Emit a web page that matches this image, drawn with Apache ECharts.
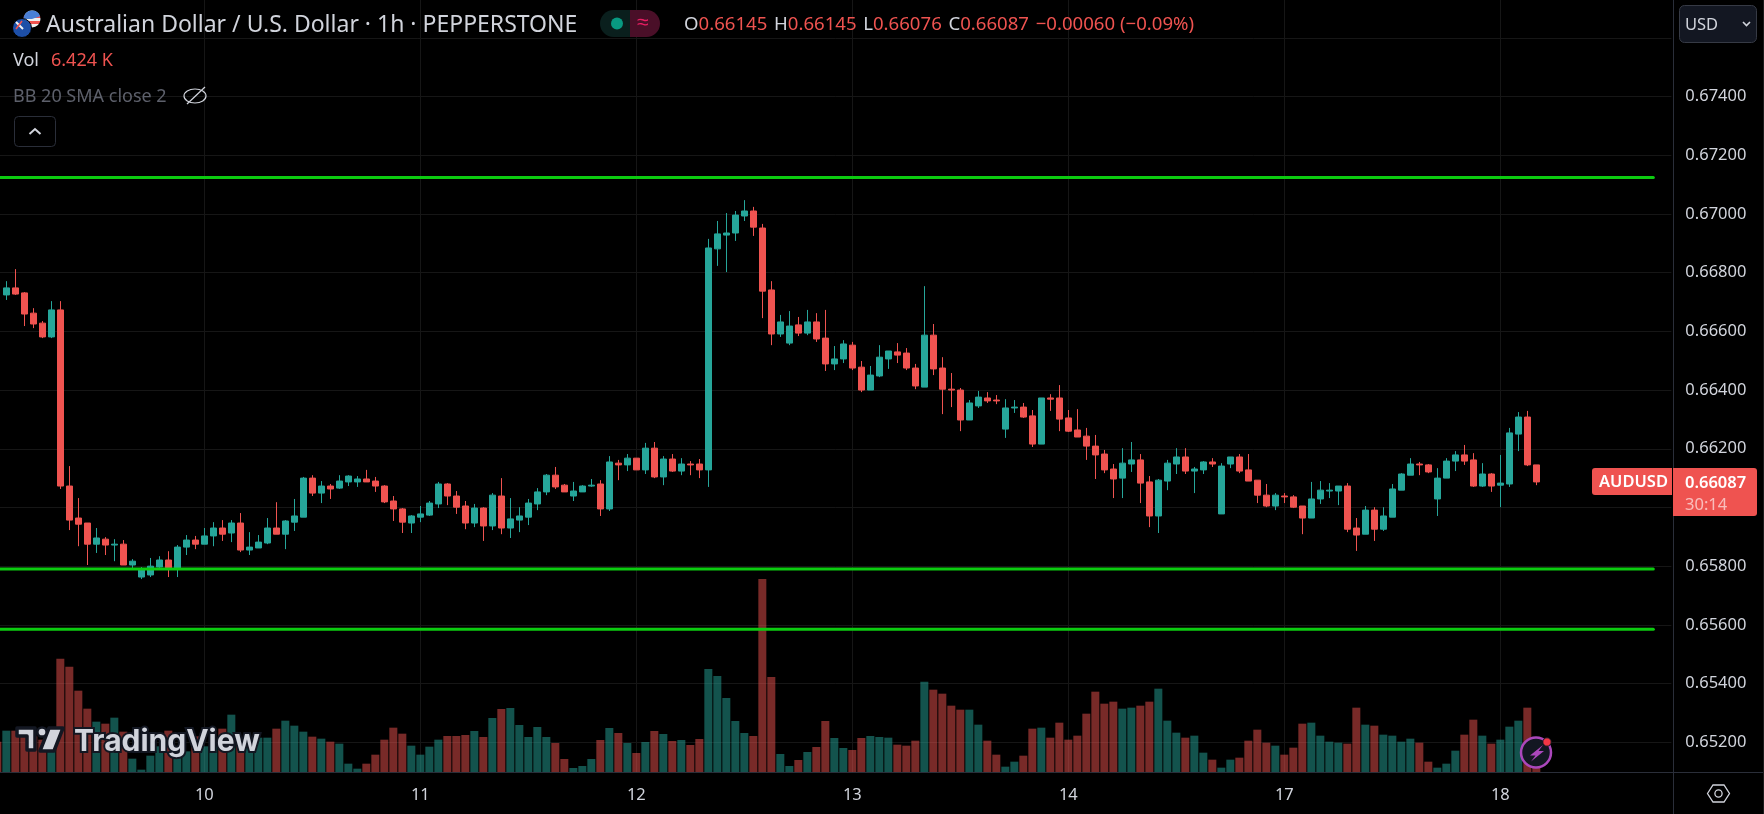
<!DOCTYPE html>
<html><head><meta charset="utf-8">
<style>html,body{margin:0;padding:0;background:#000}#c{width:1764px;height:814px}</style>
<script src="https://cdn.jsdelivr.net/npm/echarts@6/dist/echarts.min.js"></script>
</head><body><div id="c"></div>
<script>
const opens=[0.66724,0.66748,0.66731,0.66662,0.66628,0.66581,0.66673,0.66073,0.65964,0.65947,
0.65875,0.65892,0.65872,0.65875,0.65804,0.65763,0.65770,0.65797,0.65821,0.65790,
0.65865,0.65889,0.65875,0.65903,0.65930,0.65913,0.65947,0.65855,0.65862,0.65879,
0.65930,0.65909,0.65950,0.65967,0.66100,0.66049,0.66073,0.66066,0.66087,0.66087,
0.66097,0.66090,0.66073,0.66022,0.65995,0.65947,0.65967,0.65974,0.66012,0.66080,
0.66039,0.66005,0.65947,0.65998,0.65937,0.66039,0.65930,0.65957,0.65967,0.66012,
0.66053,0.66110,0.66076,0.66039,0.66053,0.66073,0.66080,0.65995,0.66151,0.66145,
0.66168,0.66128,0.66202,0.66104,0.66165,0.66124,0.66148,0.66148,0.66128,0.66881,
0.66928,0.66935,0.66993,0.67010,0.66952,0.66741,0.66591,0.66560,0.66622,0.66594,
0.66632,0.66577,0.66489,0.66506,0.66553,0.66478,0.66400,0.66448,0.66506,0.66530,
0.66526,0.66475,0.66410,0.66587,0.66475,0.66403,0.66400,0.66298,0.66346,0.66373,
0.66366,0.66267,0.66339,0.66342,0.66312,0.66216,0.66373,0.66373,0.66305,0.66264,
0.66243,0.66209,0.66182,0.66131,0.66100,0.66148,0.66162,0.66087,0.65971,0.66090,
0.66148,0.66172,0.66124,0.66128,0.66155,0.65978,0.66148,0.66172,0.66128,0.66093,
0.66042,0.66005,0.66039,0.66036,0.66005,0.65964,0.66029,0.66056,0.66056,0.66073,
0.65930,0.65909,0.65991,0.65926,0.65967,0.66059,0.66110,0.66148,0.66145,0.66029,
0.66100,0.66158,0.66179,0.66162,0.66073,0.66114,0.66076,0.66080,0.66250,0.66308,0.66145];
const closes=[0.66748,0.66727,0.66659,0.66625,0.66581,0.66673,0.66073,0.65957,0.65943,0.65875,
0.65896,0.65872,0.65875,0.65804,0.65817,0.65790,0.65800,0.65821,0.65794,0.65865,
0.65889,0.65875,0.65903,0.65930,0.65909,0.65947,0.65855,0.65865,0.65882,0.65930,
0.65909,0.65954,0.65971,0.66100,0.66049,0.66073,0.66063,0.66090,0.66107,0.66097,
0.66087,0.66073,0.66019,0.65995,0.65950,0.65971,0.65978,0.66015,0.66080,0.66039,
0.66001,0.65947,0.65998,0.65937,0.66042,0.65930,0.65961,0.65971,0.66015,0.66053,
0.66110,0.66070,0.66053,0.66056,0.66073,0.66076,0.65995,0.66155,0.66145,0.66168,
0.66128,0.66202,0.66104,0.66165,0.66124,0.66148,0.66145,0.66128,0.66884,0.66932,
0.66935,0.66996,0.67010,0.66955,0.66737,0.66591,0.66632,0.66618,0.66594,0.66632,
0.66574,0.66489,0.66506,0.66557,0.66475,0.66400,0.66451,0.66512,0.66533,0.66519,
0.66475,0.66414,0.66587,0.66472,0.66403,0.66400,0.66298,0.66356,0.66376,0.66363,
0.66363,0.66339,0.66342,0.66308,0.66216,0.66373,0.66369,0.66301,0.66260,0.66240,
0.66209,0.66179,0.66128,0.66097,0.66151,0.66162,0.66083,0.65971,0.66093,0.66151,
0.66172,0.66124,0.66131,0.66155,0.66148,0.66141,0.66172,0.66124,0.66090,0.66042,
0.66005,0.66042,0.66036,0.66001,0.65964,0.66029,0.66059,0.66059,0.66073,0.65926,
0.65906,0.65991,0.65926,0.65971,0.66063,0.66114,0.66148,0.66145,0.66121,0.66100,
0.66158,0.66179,0.66158,0.66073,0.66114,0.66073,0.66083,0.66254,0.66308,0.66145,0.66087];
const lows=[0.66707,0.66724,0.66618,0.66611,0.66577,0.66577,0.66063,0.65923,0.65868,0.65804,
0.65845,0.65838,0.65817,0.65804,0.65790,0.65756,0.65763,0.65790,0.65763,0.65763,
0.65838,0.65858,0.65875,0.65868,0.65886,0.65882,0.65848,0.65838,0.65862,0.65875,
0.65909,0.65858,0.65920,0.65967,0.66039,0.66015,0.66029,0.66063,0.66073,0.66070,
0.66087,0.66053,0.66015,0.65954,0.65913,0.65913,0.65950,0.65971,0.65998,0.66008,
0.65978,0.65926,0.65933,0.65886,0.65923,0.65909,0.65896,0.65916,0.65940,0.65991,
0.66042,0.66063,0.66053,0.66022,0.66053,0.66070,0.65971,0.65988,0.66093,0.66124,
0.66128,0.66114,0.66100,0.66076,0.66121,0.66110,0.66110,0.66100,0.66070,0.66823,
0.66802,0.66908,0.66976,0.66925,0.66645,0.66553,0.66581,0.66553,0.66584,0.66587,
0.66564,0.66465,0.66468,0.66492,0.66468,0.66393,0.66400,0.66444,0.66472,0.66492,
0.66468,0.66403,0.66410,0.66451,0.66318,0.66342,0.66260,0.66298,0.66339,0.66356,
0.66352,0.66237,0.66322,0.66305,0.66206,0.66216,0.66329,0.66260,0.66257,0.66240,
0.66162,0.66097,0.66117,0.66032,0.66032,0.66121,0.66015,0.65933,0.65913,0.66059,
0.66114,0.66114,0.66049,0.66114,0.66138,0.65978,0.66134,0.66117,0.66090,0.66015,
0.66001,0.65991,0.66015,0.65998,0.65909,0.65964,0.66012,0.66032,0.66008,0.65916,
0.65852,0.65909,0.65886,0.65920,0.65967,0.66059,0.66110,0.66110,0.66117,0.65971,
0.66100,0.66124,0.66145,0.66070,0.66070,0.66053,0.66001,0.66070,0.66192,0.66141,0.66076];
const highs=[0.66771,0.66812,0.66734,0.66679,0.66635,0.66703,0.66703,0.66141,0.66032,0.65947,
0.65930,0.65899,0.65892,0.65889,0.65824,0.65797,0.65828,0.65834,0.65851,0.65872,
0.65906,0.65903,0.65930,0.65950,0.65957,0.65957,0.65981,0.65916,0.65906,0.65964,
0.66018,0.65957,0.66029,0.66104,0.66110,0.66090,0.66080,0.66110,0.66110,0.66107,
0.66128,0.66104,0.66076,0.66039,0.65998,0.65974,0.66005,0.66022,0.66087,0.66083,
0.66056,0.66022,0.66012,0.66001,0.66049,0.66100,0.66032,0.66001,0.66029,0.66066,
0.66114,0.66138,0.66080,0.66087,0.66076,0.66097,0.66093,0.66175,0.66162,0.66182,
0.66168,0.66220,0.66223,0.66175,0.66182,0.66168,0.66158,0.66165,0.66915,0.66976,
0.67003,0.67010,0.67047,0.67024,0.66966,0.66771,0.66656,0.66669,0.66649,0.66673,
0.66662,0.66673,0.66550,0.66570,0.66564,0.66499,0.66482,0.66553,0.66533,0.66560,
0.66543,0.66489,0.66754,0.66625,0.66512,0.66458,0.66407,0.66366,0.66397,0.66393,
0.66383,0.66369,0.66366,0.66356,0.66332,0.66373,0.66386,0.66417,0.66332,0.66335,
0.66271,0.66247,0.66196,0.66148,0.66202,0.66223,0.66182,0.66107,0.66097,0.66162,
0.66202,0.66202,0.66138,0.66158,0.66168,0.66151,0.66172,0.66182,0.66182,0.66093,
0.66080,0.66049,0.66049,0.66042,0.66005,0.66087,0.66090,0.66083,0.66073,0.66083,
0.65964,0.66005,0.66001,0.66001,0.66080,0.66117,0.66168,0.66155,0.66148,0.66134,
0.66168,0.66192,0.66213,0.66185,0.66151,0.66117,0.66179,0.66271,0.66325,0.66329,0.66145];
// relative volume; the first entry belongs to the bar just off the left edge
const volumes=[91,
124,124,117,107,97,87,340,316,244,190,
151,145,163,121,40,7,49,77,124,67,
62,107,77,77,130,172,97,87,103,103,
130,154,139,121,106,100,91,85,25,10,
25,52,97,133,115,79,52,76,97,108,
108,111,123,105,162,189,192,141,105,135,
105,87,39,12,18,39,96,132,117,87,
57,90,123,114,93,96,81,99,309,288,
222,153,117,108,579,285,54,18,36,60,
75,153,102,72,66,102,108,105,103,82,
79,94,271,247,235,199,187,187,142,94,
52,16,31,49,130,133,103,148,97,109,
175,241,205,211,190,193,199,211,250,154,
118,103,109,58,37,13,37,43,94,127,
88,79,52,73,145,148,109,91,88,85,
193,142,139,112,109,91,100,88,31,13,
25,64,112,157,109,85,97,136,154,193,66];
const dayLabels=['10','11','12','13','14','17','18'];
const dayCandle=[22,46,70,94,118,142,166];
const levels=[0.67124,0.6579,0.65585];
const slots=187, lastLevelSlot=184;

const UP='#26a69a',DOWN='#ef5350',TXT='#d1d4dc',GRID='#161616',PANEL='#2a2e39';
const FONT='"Noto Sans",sans-serif';
const cats=Array.from({length:slots},()=>'');
dayCandle.forEach((c,k)=>{cats[c+1]=dayLabels[k]});
const candles=[['-','-','-','-']].concat(opens.map((o,i)=>[o,closes[i],lows[i],highs[i]]));
const isDown=i=>i===0||closes[i-1]<opens[i-1];

const chart=echarts.init(document.getElementById('c'),null,{renderer:'canvas'});
const left=-2.67,width=9*(slots-1);
const txt=(x,y,text,size,fill,extra)=>({type:'text',x,y,z:50,silent:true,
  style:Object.assign({text,x:0,y:0,font:`${size}px ${FONT}`,fill,textVerticalAlign:'middle'},extra||{})});
const OHLC={l:{fill:TXT,font:`18.6px ${FONT}`},v:{fill:DOWN,font:`18.6px ${FONT}`}};
function seg(x1,y1,x2,y2,c){return {type:'line',z:2,silent:true,shape:{x1,y1,x2,y2},style:{stroke:c,lineWidth:1}}}

chart.setOption({
 animation:false,backgroundColor:'#000',
 grid:[
  {left,width,top:-20.9,height:763.2,outerBoundsMode:'none'},
  {left,width,top:0,height:772,outerBoundsMode:'none'}
 ],
 xAxis:[
  {type:'category',gridIndex:0,data:cats,boundaryGap:false,show:false},
  {type:'category',gridIndex:1,data:cats,boundaryGap:false,
   axisLine:{show:false},axisTick:{show:false},
   axisLabel:{interval:(i,v)=>v!=='',color:TXT,fontFamily:FONT,fontSize:16.5,margin:15,hideOverlap:false},
   splitLine:{show:true,interval:(i,v)=>v!=='',lineStyle:{color:GRID,width:1}}}
 ],
 yAxis:[
  {type:'value',gridIndex:0,position:'right',min:0.652,max:0.678,interval:0.002,
   axisLine:{show:false},axisTick:{show:false},
   axisLabel:{margin:14,color:TXT,fontFamily:FONT,fontSize:16.5,padding:[3,0,0,0],formatter:v=>v.toFixed(5)},
   splitLine:{show:true,lineStyle:{color:GRID,width:1}}},
  {type:'value',gridIndex:1,min:0,max:2316,show:false,splitLine:{show:false}}
 ],
 series:[
  {name:'Vol',type:'bar',xAxisIndex:1,yAxisIndex:1,barWidth:8,data:volumes,z:2,
   itemStyle:{color:p=>isDown(p.dataIndex)?'rgba(239,83,80,0.5)':'rgba(38,166,154,0.5)'}},
  {name:'AUDUSD',type:'candlestick',xAxisIndex:0,yAxisIndex:0,barWidth:6,data:candles,z:3,
   itemStyle:{color:UP,color0:DOWN,borderColor:UP,borderColor0:DOWN,borderWidth:1}},
  ...levels.map(v=>({type:'line',xAxisIndex:0,yAxisIndex:0,z:4,symbol:'none',silent:true,
    data:[[0,v],[lastLevelSlot,v]],lineStyle:{color:'#0ccb10',width:3,cap:'round'}}))
 ],
 graphic:{elements:[
  // panel borders
  seg(1673.5,0,1673.5,814,PANEL),seg(0,772.5,1764,772.5,PANEL),seg(1763.5,0,1763.5,814,'#1c1c1c'),
  // flags
  {type:'circle',z:49,silent:true,shape:{cx:32,cy:19,r:8.5},style:{fill:new echarts.graphic.LinearGradient(0,0,0,1,[
    {offset:0,color:'#f0f0f0'},{offset:.25,color:'#f0f0f0'},{offset:.25,color:'#ef5350'},{offset:.45,color:'#ef5350'},
    {offset:.45,color:'#f0f0f0'},{offset:.62,color:'#f0f0f0'},{offset:.62,color:'#ef5350'},{offset:.8,color:'#ef5350'},
    {offset:.8,color:'#f0f0f0'},{offset:1,color:'#f0f0f0'}])}},
  {type:'sector',z:49,silent:true,shape:{cx:32,cy:19,r:8.5,startAngle:Math.PI,endAngle:1.9*Math.PI},style:{fill:'#4a7fd6'}},
  {type:'circle',z:49,silent:true,shape:{cx:22,cy:28,r:9.5},style:{fill:'#1d4fa8',stroke:'#000',lineWidth:1}},
  {type:'line',z:49,silent:true,shape:{x1:16,y1:22,x2:23,y2:29},style:{stroke:'#f4f4f4',lineWidth:2}},
  {type:'line',z:49,silent:true,shape:{x1:22,y1:21,x2:16,y2:29},style:{stroke:'#ef5350',lineWidth:1.5}},
  // header
  txt(46,25,'Australian Dollar / U.S. Dollar · 1h · PEPPERSTONE',23,TXT),
  {type:'rect',z:49,silent:true,shape:{x:600,y:10,width:30,height:27,r:[13.5,0,0,13.5]},style:{fill:'#0a1f1d'}},
  {type:'rect',z:49,silent:true,shape:{x:630,y:10,width:30,height:27,r:[0,13.5,13.5,0]},style:{fill:'#4a0f28'}},
  {type:'circle',z:50,silent:true,shape:{cx:617,cy:23.5,r:6},style:{fill:'#089981'}},
  txt(637,23,'≈',21,'#e91e63'),
  {type:'text',x:684,y:25,z:50,silent:true,style:{x:0,y:0,textVerticalAlign:'middle',
    rich:OHLC,text:'{l|O}{v|0.66145}  {l|H}{v|0.66145}  {l|L}{v|0.66076}  {l|C}{v|0.66087}  {v|−0.00060 (−0.09%)}'}},
  txt(13,61,'Vol',18,TXT),
  txt(51,61,'6.424 K',18,DOWN),
  txt(13,97,'BB 20 SMA close 2',18,'#5d606b'),
  // hidden-eye icon
  {type:'ellipse',z:50,silent:true,shape:{cx:195,cy:96,rx:11,ry:7},style:{fill:'none',stroke:TXT,lineWidth:1.2}},
  {type:'line',z:50,silent:true,shape:{x1:187,y1:104,x2:205,y2:87},style:{stroke:TXT,lineWidth:1.2}},
  {type:'rect',z:50,silent:true,shape:{x:14.5,y:116.5,width:41,height:30,r:4},style:{fill:'#000',stroke:'#2a2e39',lineWidth:1}},
  {type:'polyline',z:50,silent:true,shape:{points:[[29.5,134],[35,129],[40.5,134]]},style:{fill:'none',stroke:TXT,lineWidth:2}},
  // currency button
  {type:'rect',z:60,silent:true,shape:{x:1679.5,y:5.5,width:77,height:37,r:5},style:{fill:'#131722',stroke:'#363a45',lineWidth:1}},
  Object.assign(txt(1685,25,'USD',16.5,TXT),{z:61}),
  {type:'polyline',z:61,silent:true,shape:{points:[[1743,22],[1746.5,25.5],[1750,22]]},style:{fill:'none',stroke:TXT,lineWidth:1.6}},
  // last-price tags
  {type:'rect',z:40,silent:true,shape:{x:1592,y:468,width:80,height:27,r:[3,0,0,3]},style:{fill:DOWN}},
  {type:'rect',z:40,silent:true,shape:{x:1673,y:468,width:84,height:48,r:[0,3,3,0]},style:{fill:DOWN}},
  txt(1599,482.5,'AUDUSD',16.5,'#fff',{font:`600 16.5px ${FONT}`}),
  txt(1685,483,'0.66087',16.5,'#fff',{font:`600 16.5px ${FONT}`}),
  txt(1685,505,'30:14',16.5,'rgba(255,255,255,0.62)'),
  // TradingView mark
  {type:'group',z:70,silent:true,children:[
   {type:'polygon',z:70,shape:{points:[[17,728],[35,728],[35,750],[27,750],[27,736],[17,736]]},style:{fill:TXT,stroke:'#131722',lineWidth:3.5,lineJoin:'round'}},
   {type:'polygon',z:70,shape:{points:[[49,728],[63,728],[54,751],[40,751]]},style:{fill:TXT,stroke:'#131722',lineWidth:3.5,lineJoin:'round'}},
   {type:'circle',z:71,shape:{cx:42,cy:732,r:4.6},style:{fill:TXT,stroke:'#131722',lineWidth:2.5}},
   {type:'text',z:71,x:74,y:742,style:{x:0,y:0,text:'TradingView',font:'700 30px Inter,sans-serif',fill:TXT,stroke:'#131722',lineWidth:4,textVerticalAlign:'middle'}}
  ]},
  // pending-alert badge
  {type:'circle',z:70,silent:true,shape:{cx:1536,cy:752.5,r:15},style:{fill:'#131722',stroke:'#ab47bc',lineWidth:2.5}},
  {type:'polygon',z:71,silent:true,shape:{points:[[1543,745],[1530,755.5],[1535.5,755.5],[1531,761.5],[1544,751],[1538.5,751]]},style:{fill:'#ab47bc'}},
  {type:'circle',z:72,silent:true,shape:{cx:1547,cy:742,r:4.2},style:{fill:'#f23645',stroke:'#131722',lineWidth:1}},
  // settings hexagon
  {type:'polygon',z:50,silent:true,shape:{points:[[1707.5,793.5],[1713,785],[1724,785],[1729.5,793.5],[1724,802],[1713,802]]},style:{fill:'none',stroke:TXT,lineWidth:1.3}},
  {type:'circle',z:50,silent:true,shape:{cx:1718.5,cy:793.5,r:3.6},style:{fill:'none',stroke:TXT,lineWidth:1.3}}
 ]}
});
</script></body></html>
